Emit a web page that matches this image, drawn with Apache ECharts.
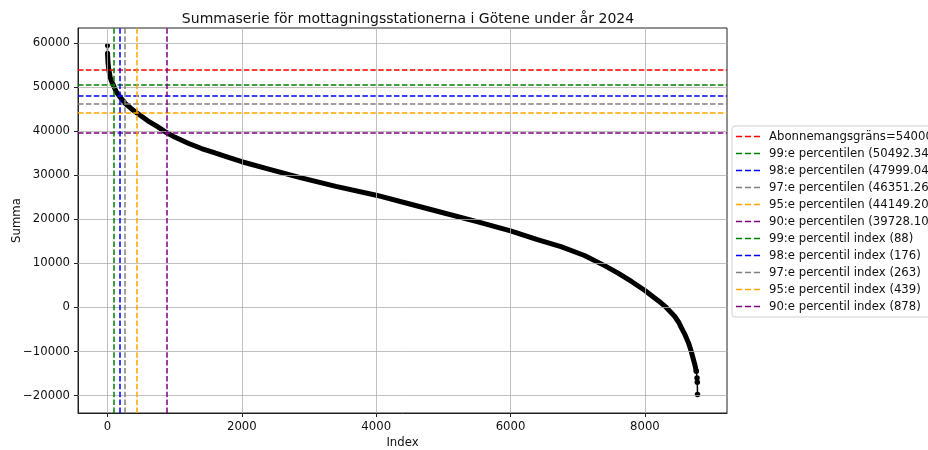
<!DOCTYPE html>
<html><head><meta charset="utf-8">
<script src="https://cdn.jsdelivr.net/npm/echarts@6/dist/echarts.min.js"></script>
<style>html,body{margin:0;padding:0;background:#fff}#c{width:928px;height:450px}</style>
</head><body><div id="c"></div>
<script>
// Sorted sum series (index -> value)
const idx = [0,1,3,8,20,40,60,88,130,176,263,350,439,600,750,878,1000,1200,1400,1600,1800,2000,2400,2870,3400,4000,4500,4910,5500,6000,6400,6750,7100,7400,7600,7800,8000,8140,8243,8318,8442,8500,8542,8600,8650,8690,8740,8765,8776,8780,8783];
const val = [59500,57700,57000,55500,54000,52300,51400,50492,49000,47999,46351,45200,44149,42400,41000,39728,38700,37300,36100,35100,34100,33100,31400,29500,27500,25500,23500,21850,19500,17400,15400,13800,11800,9500,7800,5900,3850,2200,1000,0,-2000,-3300,-4600,-6300,-8100,-10000,-12800,-14500,-16000,-17000,-19800];

const hNames = ['Abonnemangsgräns=54000','99:e percentilen (50492.34)','98:e percentilen (47999.04)','97:e percentilen (46351.26)','95:e percentilen (44149.20)','90:e percentilen (39728.10)'];
const hValues = [54000,50492.34,47999.04,46351.26,44149.20,39728.10];
const hColors = ['red','green','blue','gray','orange','purple'];
const vNames = ['99:e percentil index (88)','98:e percentil index (176)','97:e percentil index (263)','95:e percentil index (439)','90:e percentil index (878)'];
const vValues = [88,176,263,439,878];
const vColors = ['green','blue','gray','orange','purple'];

const yTicks = [-20000,-10000,0,10000,20000,30000,40000,50000,60000];
const xTicks = [0,2000,4000,6000,8000];
const xRange = [-439, 9222];
const yRange = [-23975, 63475];

const pts = idx.map((x,i)=>[x,val[i]]);
const headPts = pts.slice(0,2);
const bodyPts = pts.slice(1, pts.length-3);
const tailPts = pts.slice(pts.length-4);

const FONT = 'DejaVu Sans';
const FS = 11.7;
const dash = [5.5,2.4];
const legendIcon = 'path://M0,0h5.5v1.5h-5.5z M8,0h5.5v1.5h-5.5z M16,0h5.5v1.5h-5.5z';
const fmt = v => String(v).replace('-', '\u2212');

const series = [];
// grid lines
series.push({
  type:'line', data:[], silent:true, z:1,
  markLine:{symbol:'none', silent:true, label:{show:false}, animation:false,
    lineStyle:{color:'#b0b0b0', type:'solid', width:0.8},
    emphasis:{disabled:true},
    data: yTicks.map(v=>({yAxis:v})).concat(xTicks.map(v=>({xAxis:v})))}
});
series.push({type:'line', data:headPts, z:3, symbol:'circle', symbolSize:5, showSymbol:true,
  lineStyle:{color:'#000', width:1.5}, itemStyle:{color:'#000'}, animation:false});
series.push({type:'line', data:bodyPts, z:3, symbol:'none',
  lineStyle:{color:'#000', width:5, cap:'round', join:'round'}, itemStyle:{color:'#000'}, animation:false});
series.push({type:'line', data:tailPts, z:3, symbol:'circle', symbolSize:5.5, showSymbol:true,
  lineStyle:{color:'#000', width:1.5}, itemStyle:{color:'#000'}, animation:false});

hNames.forEach((n,i)=>{
  series.push({name:n, type:'line', data:[], z:4, color:hColors[i], symbol:'none',
    lineStyle:{color:hColors[i], type:dash, width:1.5}, itemStyle:{color:hColors[i]},
    markLine:{symbol:'none', silent:true, label:{show:false}, animation:false,
      lineStyle:{color:hColors[i], type:dash, width:1.5}, data:[{yAxis:hValues[i]}]}});
});
vNames.forEach((n,i)=>{
  series.push({name:n, type:'line', data:[], z:4, color:vColors[i], symbol:'none',
    lineStyle:{color:vColors[i], type:dash, width:1.5}, itemStyle:{color:vColors[i]},
    markLine:{symbol:'none', silent:true, label:{show:false}, animation:false,
      lineStyle:{color:vColors[i], type:dash, width:1.5}, data:[{xAxis:vValues[i]}]}});
});

const chart = echarts.init(document.getElementById('c'), null, {renderer:'canvas'});
chart.setOption({
  animation:false,
  backgroundColor:'#fff',
  title:{text:'Summaserie för mottagningsstationerna i Götene under år 2024', left:403, top:7, textAlign:'center',
    textStyle:{fontFamily:FONT, fontSize:14, fontWeight:'normal', color:'#111'}},
  grid:{left:78, top:28, right:201, bottom:37, show:true, borderColor:'#222', borderWidth:1, backgroundColor:'transparent', containLabel:false, outerBoundsMode:'none'},
  legend:{orient:'vertical', left:732, top:126, padding:[4,6,4,4], itemWidth:24, itemHeight:13, itemGap:4,
    backgroundColor:'#fff', borderColor:'#d0d0d0', borderWidth:1, borderRadius:3,
    data: hNames.map(n=>({name:n, icon:legendIcon})).concat(vNames.map(n=>({name:n, icon:legendIcon}))),
    textStyle:{fontFamily:FONT, fontSize:FS, lineHeight:13, color:'#111', padding:[0,0,0,4]}, selectedMode:false},
  xAxis:{type:'value', min:xRange[0], max:xRange[1], name:'Index', nameLocation:'middle', nameGap:24, nameMoveOverlap:false,
    nameTextStyle:{fontFamily:FONT, fontSize:FS, color:'#111'},
    axisLine:{show:true, onZero:false, lineStyle:{color:'#222', width:1}},
    axisTick:{show:true, length:4, customValues:xTicks, lineStyle:{color:'#222'}},
    axisLabel:{customValues:xTicks, formatter:fmt, fontFamily:FONT, fontSize:FS, color:'#111', margin:8},
    splitLine:{show:false}},
  yAxis:{type:'value', min:yRange[0], max:yRange[1], name:'Summa', nameLocation:'middle', nameGap:55, nameRotate:90, nameMoveOverlap:false,
    nameTextStyle:{fontFamily:FONT, fontSize:FS, color:'#111'},
    axisLine:{show:true, onZero:false, lineStyle:{color:'#222', width:1}},
    axisTick:{show:true, length:4, customValues:yTicks, lineStyle:{color:'#222'}},
    axisLabel:{customValues:yTicks, formatter:fmt, fontFamily:FONT, fontSize:FS, color:'#111', margin:8},
    splitLine:{show:false}},
  series: series
});
</script></body></html>
